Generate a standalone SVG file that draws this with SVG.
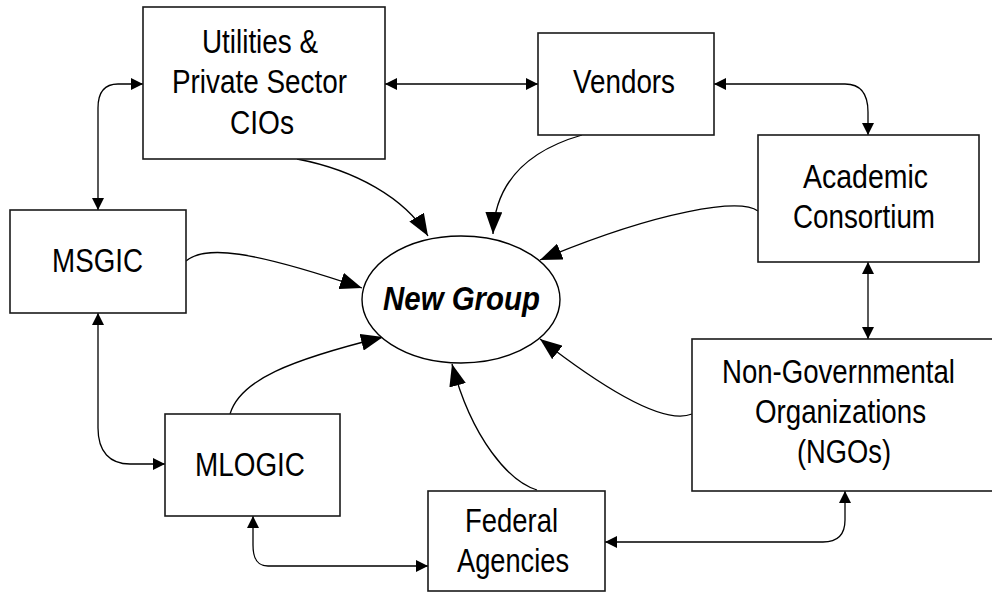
<svg xmlns="http://www.w3.org/2000/svg" width="992" height="592" viewBox="0 0 992 592">
  <style>
    .box { fill: #ffffff; stroke: #1a1a1a; stroke-width: 1.6; }
    .hub { fill: #ffffff; stroke: #000000; stroke-width: 1.4; }
    .lbl { font-family: "Liberation Sans", Arial, sans-serif; font-size: 33px; fill: #000000; text-anchor: middle; }
    .hublbl { font-family: "Liberation Sans", Arial, sans-serif; font-size: 33px; font-weight: bold; font-style: italic; fill: #000000; text-anchor: middle; }
    .link { fill: none; stroke: #000000; stroke-width: 1.3; }
    .two { marker-start: url(#tip); marker-end: url(#tip); }
    .feed { marker-end: url(#bigtip); }
  </style>
  <defs>
    <marker id="tip" viewBox="0 0 12 12" refX="12" refY="6" markerWidth="12" markerHeight="12" markerUnits="userSpaceOnUse" orient="auto-start-reverse">
      <path d="M0,0 L12,6 L0,12 z" fill="#000000"/>
    </marker>
    <marker id="bigtip" viewBox="0 0 22 17" refX="22" refY="8.5" markerWidth="22" markerHeight="17" markerUnits="userSpaceOnUse" orient="auto">
      <path d="M0,0 L22,8.5 L0,17 z" fill="#000000"/>
    </marker>
  </defs>

  <!-- connectors -->
  <g id="connectors">
    <!-- two-way links between partner boxes -->
    <path class="link two" d="M385,84 H538"/>
    <path class="link two" d="M714,84 H845 C862,84 868,95 868,112 V135"/>
    <path class="link two" d="M143,84 H118 C104,84 98,92 98,108 V210"/>
    <path class="link two" d="M98,313 V428 C98,452 110,464 130,464 H165"/>
    <path class="link two" d="M253,516 V545 C253,560 258,566 268,566 H428"/>
    <path class="link two" d="M605,542 H823 C838,542 845,535 845,520 V491"/>
    <path class="link two" d="M868,262 V339"/>
    <!-- feeds into the hub -->
    <path class="link feed" d="M297,159 C355,170 405,198 428,236"/>
    <path class="link feed" d="M582,135 C530,150 495,180 493,234"/>
    <path class="link feed" d="M758,211 C740,198 660,210 540,260"/>
    <path class="link feed" d="M186,261 C205,245 250,250 362,288"/>
    <path class="link feed" d="M230,414 C240,380 290,360 383,337"/>
    <path class="link feed" d="M537,490 C510,482 472,440 452,364"/>
    <path class="link feed" d="M692,414 C670,423 625,405 540,339"/>
  </g>

  <g id="new-group">
    <ellipse class="hub" cx="461" cy="299.5" rx="99" ry="63.5"/>
    <text class="hublbl" x="461.5" y="310" textLength="157" lengthAdjust="spacingAndGlyphs">New Group</text>
  </g>

  <g id="utilities">
    <rect class="box" x="143" y="7" width="242" height="152"/>
    <text class="lbl" x="260" y="53" textLength="116" lengthAdjust="spacingAndGlyphs">Utilities &amp;</text>
    <text class="lbl" x="259.5" y="93" textLength="175" lengthAdjust="spacingAndGlyphs">Private Sector</text>
    <text class="lbl" x="262" y="134" textLength="64" lengthAdjust="spacingAndGlyphs">CIOs</text>
  </g>

  <g id="vendors">
    <rect class="box" x="538" y="33" width="176" height="102"/>
    <text class="lbl" x="624" y="93" textLength="102" lengthAdjust="spacingAndGlyphs">Vendors</text>
  </g>

  <g id="academic">
    <rect class="box" x="758" y="135" width="221" height="127"/>
    <text class="lbl" x="865.5" y="188" textLength="125" lengthAdjust="spacingAndGlyphs">Academic</text>
    <text class="lbl" x="864" y="228" textLength="142" lengthAdjust="spacingAndGlyphs">Consortium</text>
  </g>

  <g id="msgic">
    <rect class="box" x="10" y="210" width="176" height="103"/>
    <text class="lbl" x="97.5" y="272" textLength="91" lengthAdjust="spacingAndGlyphs">MSGIC</text>
  </g>

  <g id="mlogic">
    <rect class="box" x="165" y="414" width="175" height="102"/>
    <text class="lbl" x="250" y="476" textLength="110" lengthAdjust="spacingAndGlyphs">MLOGIC</text>
  </g>

  <g id="federal">
    <rect class="box" x="428" y="491" width="177" height="100"/>
    <text class="lbl" x="511.5" y="532" textLength="93" lengthAdjust="spacingAndGlyphs">Federal</text>
    <text class="lbl" x="513" y="572" textLength="112" lengthAdjust="spacingAndGlyphs">Agencies</text>
  </g>

  <g id="ngos">
    <rect class="box" x="692" y="339" width="302" height="152"/>
    <text class="lbl" x="838.5" y="383" textLength="233" lengthAdjust="spacingAndGlyphs">Non-Governmental</text>
    <text class="lbl" x="840.5" y="423" textLength="171" lengthAdjust="spacingAndGlyphs">Organizations</text>
    <text class="lbl" x="844" y="463" textLength="94" lengthAdjust="spacingAndGlyphs">(NGOs)</text>
  </g>
</svg>
